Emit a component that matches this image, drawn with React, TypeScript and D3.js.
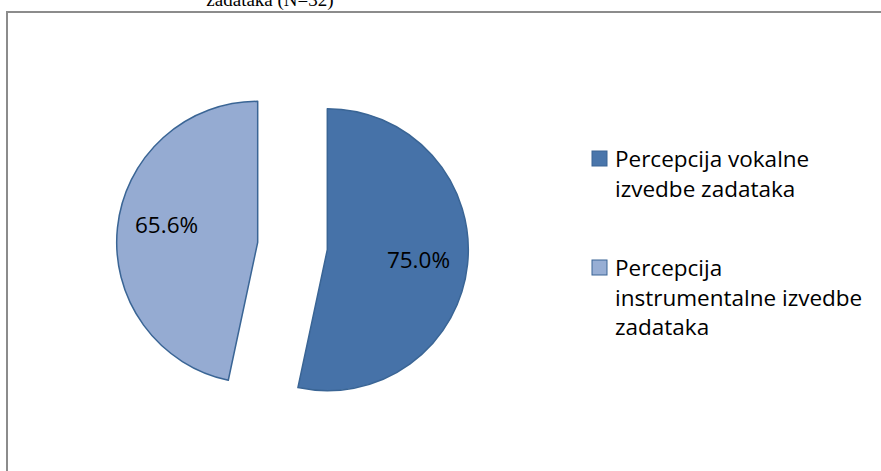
import React from "react";
import * as d3 from "d3";

const categories = [
  "Percepcija vokalne izvedbe zadataka",
  "Percepcija instrumentalne izvedbe zadataka",
];
const values = [75.0, 65.6];
const valueLabels = ["75.0%", "65.6%"];
const legendLines = [
  ["Percepcija vokalne", "izvedbe zadataka"],
  ["Percepcija", "instrumentalne izvedbe", "zadataka"],
];
const titleText = "zadataka (N=32)";

const W = 881;
const H = 471;
const fills = ["#4672A8", "#95ABD2"];
const legendFills = ["#4A76AB", "#97AED4"];
const strokeCol = "#3A6595";
const FONT = "'Open Sans', 'Noto Sans', sans-serif";
const labelNudgeY = [0, -8];

export default function App() {
  const cx = 292.5;
  const cy = 246;
  const r = 141;
  const explode = 35;

  const pie = d3
    .pie<number>()
    .sort(null)
    .value((d) => d)
    .startAngle(0)
    .endAngle(2 * Math.PI);
  const arcs = pie(values);
  const arcGen = d3.arc<d3.PieArcDatum<number>>().innerRadius(0).outerRadius(r);

  return (
    <svg
      width={W}
      height={H}
      style={{ position: "absolute", left: 0, top: 0, background: "#fff" }}
    >
      <rect x={0} y={0} width={W} height={H} fill="#fff" />
      {/* chart frame */}
      <path
        d={`M7,${H + 5} L7,12 L${W + 5},12`}
        fill="none"
        stroke="#8C8C8C"
        strokeWidth={2}
      />
      <text
        x={270}
        y={6}
        textAnchor="middle"
        fontFamily="'Liberation Serif', 'Times New Roman', serif"
        fontSize={19}
        fill="#000"
      >
        {titleText}
      </text>
      {arcs.map((a, i) => {
        const mid = (a.startAngle + a.endAngle) / 2;
        const dx = Math.sin(mid) * explode;
        const dy = -Math.cos(mid) * explode;
        const lr = r * 0.65;
        const lx = Math.sin(mid) * lr;
        const ly = -Math.cos(mid) * lr + labelNudgeY[i];
        return (
          <g key={categories[i]} transform={`translate(${cx + dx},${cy + dy})`}>
            <path
              d={arcGen(a) || ""}
              fill={fills[i]}
              stroke={strokeCol}
              strokeWidth={1.5}
              strokeLinejoin="round"
            />
            <text
              x={lx}
              y={ly}
              textAnchor="middle"
              dominantBaseline="central"
              fontFamily={FONT}
              fontSize={22.5}
              fill="#000"
            >
              {valueLabels[i]}
            </text>
          </g>
        );
      })}
      {legendLines.map((lines, i) => {
        const baseY = i === 0 ? 167 : 276;
        return (
          <g key={"lg" + i}>
            <rect
              x={592}
              y={baseY - 16}
              width={15}
              height={15}
              fill={legendFills[i]}
              stroke={strokeCol}
              strokeWidth={1}
            />
            {lines.map((ln, j) => (
              <text
                key={j}
                x={615}
                y={baseY + j * 29.5}
                fontFamily={FONT}
                fontSize={22.5}
                fill="#000"
              >
                {ln}
              </text>
            ))}
          </g>
        );
      })}
    </svg>
  );
}
